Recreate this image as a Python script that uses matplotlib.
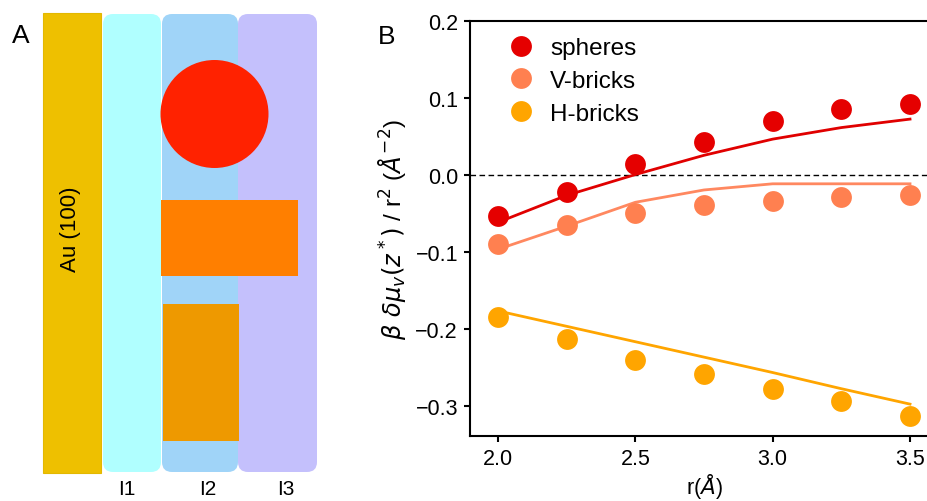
import matplotlib
matplotlib.use("Agg")
import matplotlib.pyplot as plt
from matplotlib.patches import FancyBboxPatch, Rectangle, Circle

plt.rcParams['font.family'] = ['Liberation Sans', 'DejaVu Sans']
plt.rcParams['mathtext.fontset'] = 'dejavusans'

# ---- data (panel B) ----
r = [2.0, 2.25, 2.5, 2.75, 3.0, 3.25, 3.5]
spheres_pts = [-0.054, -0.023, 0.014, 0.042, 0.070, 0.085, 0.092]
spheres_fit = [-0.062, -0.027, 0.000, 0.025, 0.046, 0.061, 0.072]
vbricks_pts = [-0.090, -0.066, -0.050, -0.039, -0.034, -0.029, -0.027]
vbricks_fit = [-0.097, -0.067, -0.036, -0.020, -0.012, -0.012, -0.012]
hbricks_pts = [-0.185, -0.213, -0.241, -0.259, -0.278, -0.294, -0.314]
hbricks_fit = [-0.177, -0.197, -0.217, -0.237, -0.257, -0.278, -0.298]
series_names = ["spheres", "V-bricks", "H-bricks"]
yticks = [-0.3, -0.2, -0.1, 0.0, 0.1, 0.2]
xticks = [2.0, 2.5, 3.0, 3.5]
layer_labels = ["I1", "I2", "I3"]

W, H = 927, 502
fig = plt.figure(figsize=(W / 100, H / 100), dpi=100)

# ---- panel A: schematic in pixel coordinates ----
axA = fig.add_axes([0, 0, 1, 1])
axA.set_xlim(0, W)
axA.set_ylim(H, 0)
axA.axis('off')

def rrect(x0, y0, x1, y1, color, rad=10):
    p = FancyBboxPatch((x0 + rad, y0 + rad), (x1 - x0) - 2 * rad, (y1 - y0) - 2 * rad,
                       boxstyle=f"round,pad={rad}", fc=color, ec='none')
    axA.add_patch(p)

rrect(238, 15, 317, 473, '#C4C0FC')
rrect(162, 15, 238, 473, '#A0D4F8')
rrect(103, 15, 161, 473, '#B0FFFF')
axA.add_patch(Rectangle((43, 14), 58, 460, fc='#EEC000', ec='#E3B800', lw=0.8))
axA.add_patch(Circle((214.5, 115), 54, fc='#FF2200', ec='none'))
axA.add_patch(Rectangle((161, 201), 137, 76, fc='#FF7F00', ec='none'))
axA.add_patch(Rectangle((163, 305), 76, 137, fc='#EE9900', ec='none'))
axA.text(71, 229, "Au (100)", rotation=90, ha='center', va='center', fontsize=16)
for lx, lab in zip([126.5, 208, 286], layer_labels):
    axA.text(lx, 490, lab, ha='center', va='center', fontsize=15)
axA.text(21, 36, "A", ha='center', va='center', fontsize=19)
axA.text(387, 37, "B", ha='center', va='center', fontsize=19)

# ---- panel B ----
x0_px = 470.5
ppu = 274.7
x1_px = x0_px + 1.7 * ppu
y_top, y_bot = 21.5, 436.7
axB = fig.add_axes([x0_px / W, 1 - y_bot / H, (x1_px - x0_px) / W, (y_bot - y_top) / H])
axB.set_xlim(1.9, 3.6)
axB.set_ylim(-0.339, 0.2)

colors_pts = ['#E50000', '#FF8050', '#FFA500']
colors_fit = ['#E00000', '#FF8860', '#FFA500']
pts = [spheres_pts, vbricks_pts, hbricks_pts]
fits = [spheres_fit, vbricks_fit, hbricks_fit]

axB.axhline(0, color='black', lw=1.0, ls=(0, (4, 2.5)), zorder=1)
for name, p, f, cp, cf in zip(series_names, pts, fits, colors_pts, colors_fit):
    axB.plot(r, f, color=cf, lw=2.0, zorder=2)
    axB.plot(r, p, 'o', color=cp, ms=15, mec='none', label=name, zorder=3)

axB.set_xticks(xticks)
axB.set_xticklabels([f"{v:.1f}" for v in xticks])
axB.set_yticks(yticks)
axB.set_yticklabels([f"{v:.1f}".replace('-', '\u2212') for v in yticks])
axB.tick_params(labelsize=15.5, width=1.5, length=4, direction='out')
axB.tick_params(axis='y', pad=5)
axB.tick_params(axis='x', pad=5)
for s in ['left', 'bottom', 'top', 'right']:
    axB.spines[s].set_linewidth(1.5)
axB.set_xlabel(r"r($\AA$)", fontsize=15.5, labelpad=1)
axB.set_ylabel(r"$\beta\ \delta\mu_v(z^*)$ / r$^2$ ($\AA^{-2}$)", fontsize=17.5, labelpad=5)

leg = fig.legend(*axB.get_legend_handles_labels(), loc='upper left',
                 bbox_to_anchor=(509 / W, 1 - 38 / H), frameon=False,
                 fontsize=17.5, handletextpad=0.69, labelspacing=0.45, borderaxespad=0,
                 borderpad=0, handlelength=1.0)

fig.savefig("out.png", dpi=100)
